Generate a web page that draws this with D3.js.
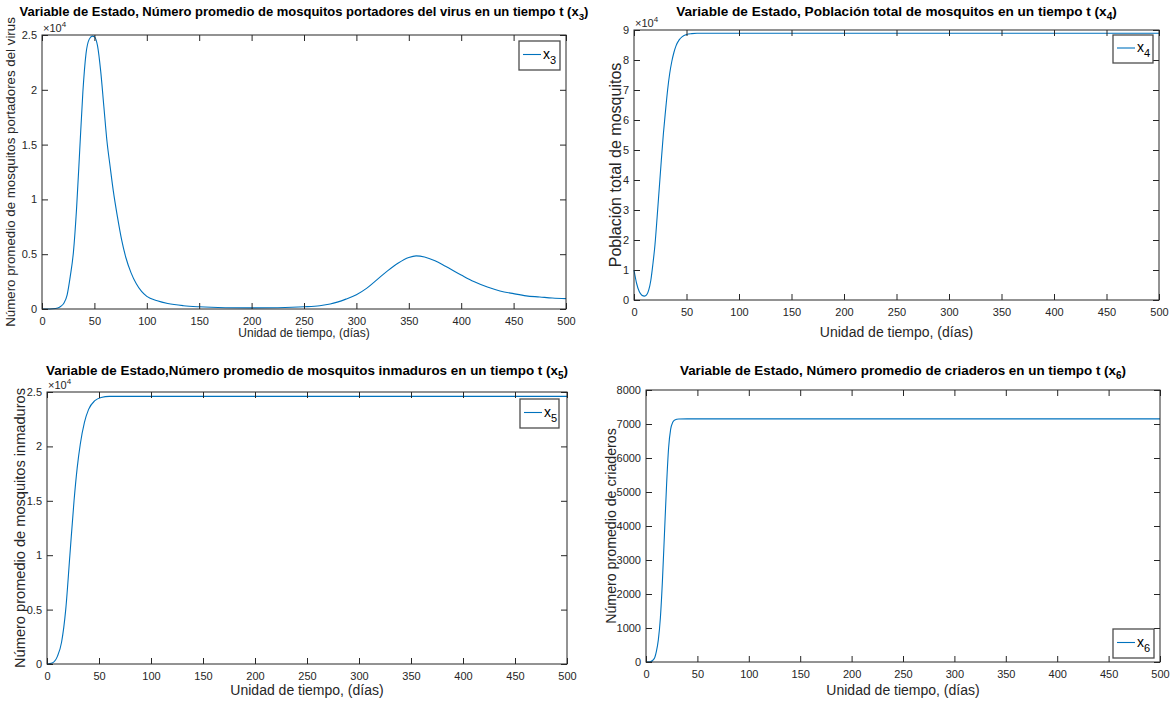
<!DOCTYPE html>
<html>
<head>
<meta charset="utf-8">
<script src="https://cdn.jsdelivr.net/npm/d3@7/dist/d3.min.js"></script>
<style>
  html, body { margin: 0; padding: 0; background: #ffffff; }
  svg { display: block; font-family: "Liberation Sans", Arial, Helvetica, sans-serif; }
</style>
</head>
<body>
<svg id="chart" width="1175" height="704"></svg>
<script>
// Time axis shared by all four state variables (days)
const timeDomain = [0, 500];
const timeTicks = [0, 50, 100, 150, 200, 250, 300, 350, 400, 450, 500];

// x3: average number of virus-carrying mosquitoes
const x3Days = [0, 5, 10, 15, 18, 21, 24, 27, 30, 33, 36, 39, 42, 45, 48, 50, 53, 56, 59, 62, 65, 68, 72, 76, 80, 85, 90, 95, 100, 110, 120, 135, 150, 175, 200, 225, 250, 265, 275, 290, 300, 310, 320, 330, 340, 350, 357, 365, 375, 385, 400, 412, 425, 437, 450, 462, 475, 487, 500];
const x3Values = [0, 0, 20, 100, 250, 550, 1300, 3000, 5200, 9200, 14500, 19800, 23300, 24600, 24900, 24850, 24000, 21700, 18500, 15300, 13000, 10800, 8400, 6300, 4700, 3300, 2300, 1600, 1150, 750, 500, 300, 200, 120, 100, 120, 200, 300, 450, 900, 1300, 1900, 2700, 3500, 4200, 4700, 4850, 4750, 4400, 3900, 3100, 2500, 2000, 1650, 1400, 1200, 1100, 1000, 950];
const x3Ticks = [0, 5000, 10000, 15000, 20000, 25000];

// x4: total mosquito population
const x4Days = [0, 2.5, 5, 7.5, 10, 12, 14, 16, 18, 20, 22, 24, 26, 28, 30, 32, 34, 36, 38, 40, 43, 46, 50, 55, 60, 100, 200, 300, 400, 500];
const x4Values = [10000, 5500, 2800, 1600, 1300, 1700, 3300, 6500, 12000, 18500, 27500, 37000, 46500, 55500, 63000, 70000, 75500, 79500, 82500, 84700, 86700, 87800, 88500, 88800, 88900, 88900, 88900, 88900, 88900, 88900];
const x4Ticks = [0, 10000, 20000, 30000, 40000, 50000, 60000, 70000, 80000, 90000];

// x5: immature mosquitoes
const x5Days = [0, 5, 10, 14, 18, 22, 26, 29, 32, 36, 40, 46, 52, 60, 100, 200, 300, 400, 500];
const x5Values = [0, 100, 700, 2000, 5000, 10000, 15000, 18000, 20200, 22200, 23400, 24200, 24500, 24600, 24600, 24600, 24600, 24600, 24600];
const x5Ticks = [0, 5000, 10000, 15000, 20000, 25000];

// x6: breeding sites
const x6Days = [0, 4, 8, 10, 12, 14, 16, 18, 20, 22, 24, 26, 28, 32, 40, 100, 200, 300, 400, 500];
const x6Values = [0, 5, 100, 300, 650, 1300, 2400, 3800, 5200, 6300, 6850, 7050, 7120, 7145, 7150, 7150, 7150, 7150, 7150, 7150];
const x6Ticks = [0, 1000, 2000, 3000, 4000, 5000, 6000, 7000, 8000];

const lineColor = "#0072BD";
const inkColor = "#262626";

const panels = [
  {
    days: x3Days, values: x3Values, yTicks: x3Ticks, yMax: 25000, scaleExp: 4,
    box: { left: 42, right: 566, top: 35, bottom: 309 },
    title: "Variable de Estado, Número promedio de mosquitos portadores del virus en un tiempo t (x", sub: "3",
    titleSize: 13, titleY: 16,
    yLabel: "Número promedio de mosquitos portadores del virus", yLabelSize: 13.3, yLabelX: 15,
    xLabelSize: 12, xLabelY: 337, tickSize: 11,
    legend: { x: 519, y: 41, w: 41, h: 29 }
  },
  {
    days: x4Days, values: x4Values, yTicks: x4Ticks, yMax: 90000, scaleExp: 4,
    box: { left: 634, right: 1159, top: 30, bottom: 300 },
    title: "Variable de Estado, Población total de mosquitos en un tiempo t (x", sub: "4",
    titleSize: 13.6, titleY: 16,
    yLabel: "Población total de mosquitos", yLabelSize: 16, yLabelX: 621,
    xLabelSize: 14, xLabelY: 337, tickSize: 11,
    legend: { x: 1113, y: 35, w: 40, h: 28 }
  },
  {
    days: x5Days, values: x5Values, yTicks: x5Ticks, yMax: 25000, scaleExp: 4,
    box: { left: 47, right: 567, top: 392, bottom: 664 },
    title: "Variable de Estado,Número promedio de mosquitos inmaduros en un tiempo t (x", sub: "5",
    titleSize: 13.4, titleY: 375,
    yLabel: "Número promedio de mosquitos inmaduros", yLabelSize: 14.6, yLabelX: 25,
    xLabelSize: 14, xLabelY: 695, tickSize: 11,
    legend: { x: 520, y: 399, w: 39, h: 29 }
  },
  {
    days: x6Days, values: x6Values, yTicks: x6Ticks, yMax: 8000, scaleExp: 0,
    box: { left: 646, right: 1160, top: 390, bottom: 662 },
    title: "Variable de Estado, Número promedio de criaderos en un tiempo t (x", sub: "6",
    titleSize: 13.4, titleY: 375,
    yLabel: "Número promedio de criaderos", yLabelSize: 14.2, yLabelX: 616,
    xLabelSize: 14, xLabelY: 695, tickSize: 11,
    legend: { x: 1113, y: 629, w: 41, h: 29 }
  }
];

const svg = d3.select("#chart");
const tickLen = 6;

panels.forEach(p => {
  const b = p.box;
  const g = svg.append("g");
  const x = d3.scaleLinear().domain(timeDomain).range([b.left, b.right]);
  const y = d3.scaleLinear().domain([0, p.yMax]).range([b.bottom, b.top]);
  const div = Math.pow(10, p.scaleExp);
  const fmt = v => d3.format("~g")(+(v / div).toFixed(4));

  // the curve
  const line = d3.line()
    .x((d, i) => x(p.days[i]))
    .y(d => y(d))
    .curve(d3.curveMonotoneX);
  g.append("path")
    .datum(p.values)
    .attr("d", line)
    .attr("fill", "none")
    .attr("stroke", lineColor)
    .attr("stroke-width", 1.1);

  // axes with inward ticks on all four sides
  const styleAxis = sel => {
    sel.select(".domain").remove();
    sel.selectAll("line").attr("stroke", inkColor).attr("stroke-width", 1);
    sel.selectAll("text").attr("fill", inkColor).attr("font-size", p.tickSize + "px")
      .attr("font-family", "'Liberation Sans', Arial, sans-serif");
  };
  g.append("g").attr("transform", `translate(0,${b.bottom})`)
    .call(d3.axisBottom(x).tickValues(timeTicks).tickSizeInner(-tickLen).tickSizeOuter(0).tickPadding(8).tickFormat(d3.format("d")))
    .call(styleAxis);
  g.append("g").attr("transform", `translate(0,${b.top})`)
    .call(d3.axisTop(x).tickValues(timeTicks).tickSizeInner(-tickLen).tickSizeOuter(0).tickFormat(""))
    .call(styleAxis);
  g.append("g").attr("transform", `translate(${b.left},0)`)
    .call(d3.axisLeft(y).tickValues(p.yTicks).tickSizeInner(-tickLen).tickSizeOuter(0).tickPadding(5).tickFormat(fmt))
    .call(styleAxis);
  g.append("g").attr("transform", `translate(${b.right},0)`)
    .call(d3.axisRight(y).tickValues(p.yTicks).tickSizeInner(-tickLen).tickSizeOuter(0).tickFormat(""))
    .call(styleAxis);

  // axes box
  g.append("rect")
    .attr("x", b.left).attr("y", b.top)
    .attr("width", b.right - b.left).attr("height", b.bottom - b.top)
    .attr("fill", "none").attr("stroke", inkColor).attr("stroke-width", 1);

  // exponent marker
  if (p.scaleExp) {
    const e = g.append("text")
      .attr("x", b.left + 1).attr("y", b.top - 3)
      .attr("fill", inkColor).attr("font-size", "11px");
    e.append("tspan").text("×10");
    e.append("tspan").attr("dy", -5).attr("font-size", "8px").text(p.scaleExp);
  }

  // title
  const t = g.append("text")
    .attr("x", (b.left + b.right) / 2).attr("y", p.titleY)
    .attr("text-anchor", "middle")
    .attr("font-weight", "bold").attr("font-size", p.titleSize + "px").attr("fill", "#000");
  t.append("tspan").text(p.title);
  t.append("tspan").attr("dy", 4).attr("font-size", (p.titleSize * 0.75) + "px").text(p.sub);
  t.append("tspan").attr("dy", -4).text(")");

  // axis titles
  g.append("text")
    .attr("x", (b.left + b.right) / 2).attr("y", p.xLabelY)
    .attr("text-anchor", "middle").attr("fill", inkColor)
    .attr("font-size", p.xLabelSize + "px")
    .text("Unidad de tiempo, (días)");
  g.append("text")
    .attr("transform", `translate(${p.yLabelX},${(b.top + b.bottom) / 2}) rotate(-90)`)
    .attr("text-anchor", "middle").attr("fill", inkColor)
    .attr("font-size", p.yLabelSize + "px")
    .text(p.yLabel);

  // legend
  const L = p.legend;
  const lg = g.append("g");
  lg.append("rect")
    .attr("x", L.x).attr("y", L.y).attr("width", L.w).attr("height", L.h)
    .attr("fill", "#fff").attr("stroke", "#4d4d4d").attr("stroke-width", 1.3);
  const ly = L.y + L.h / 2 - 1;
  lg.append("line")
    .attr("x1", L.x + 4).attr("x2", L.x + 22).attr("y1", ly).attr("y2", ly)
    .attr("stroke", lineColor).attr("stroke-width", 1.1);
  const lt = lg.append("text")
    .attr("x", L.x + 24).attr("y", ly + 4)
    .attr("fill", "#000").attr("font-size", "14px");
  lt.append("tspan").text("x");
  lt.append("tspan").attr("dy", 5).attr("font-size", "11px").text(p.sub);
});
</script>
</body>
</html>
